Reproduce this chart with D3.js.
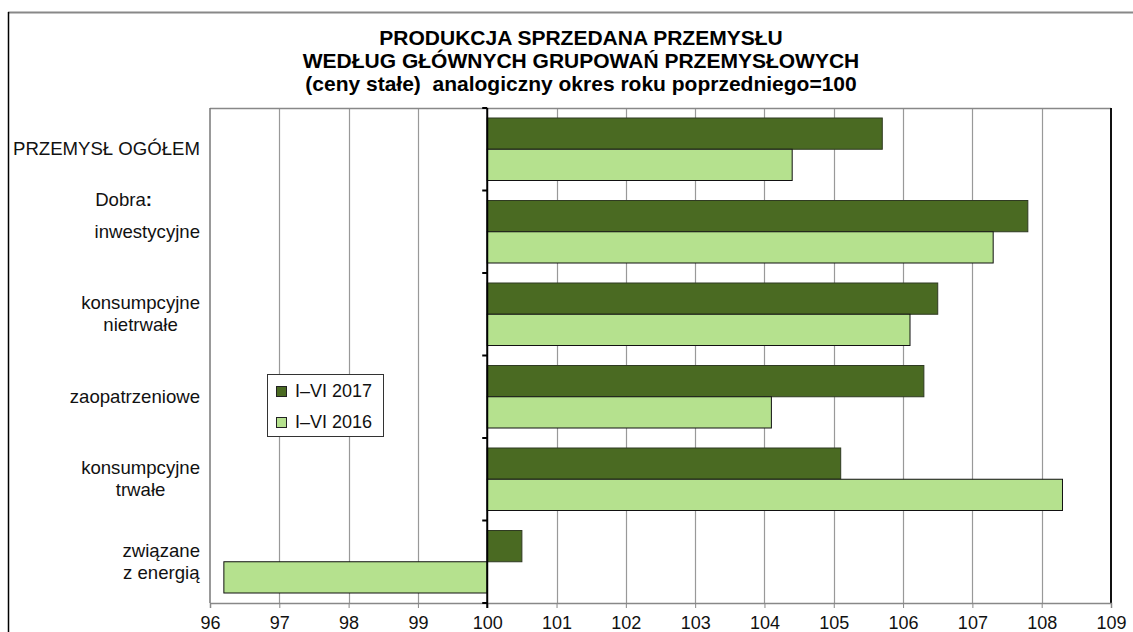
<!DOCTYPE html>
<html>
<head>
<meta charset="utf-8">
<script src="https://cdn.jsdelivr.net/npm/d3@7"></script>
<style>
  body { margin: 0; background: #fff; }
  svg { display: block; font-family: "Liberation Sans", Arial, sans-serif; }
</style>
</head>
<body>
<div id="chart"></div>
<script>
// data
const categories = ["ogolem", "inwestycyjne", "nietrwale", "zaopatrzeniowe", "trwale", "energia"];
const categoryLabels = [
  ["PRZEMYSŁ OGÓŁEM"],
  ["inwestycyjne"],
  ["konsumpcyjne", "nietrwałe"],
  ["zaopatrzeniowe"],
  ["konsumpcyjne", "trwałe"],
  ["związane", "z energią"]
];
const seriesNames = ["I–VI 2017", "I–VI 2016"];
const values2017 = [105.7, 107.8, 106.5, 106.3, 105.1, 100.5];
const values2016 = [104.4, 107.3, 106.1, 104.1, 108.3, 96.2];
const xTicks = [96, 97, 98, 99, 100, 101, 102, 103, 104, 105, 106, 107, 108, 109];
const titleLines = [
  "PRODUKCJA SPRZEDANA PRZEMYSŁU",
  "WEDŁUG GŁÓWNYCH GRUPOWAŃ PRZEMYSŁOWYCH",
  "(ceny stałe)  analogiczny okres roku poprzedniego=100"
];

const data = categories.map((c, i) => ({
  key: c,
  lines: categoryLabels[i],
  vals: [values2017[i], values2016[i]]
}));

const W = 1133, H = 632;
const margin = { top: 108, right: 22, bottom: 29, left: 210 };
const colors = ["#4a6a22", "#b5e18e"];
const strokes = ["#2f3a22", "#111"];

const svg = d3.select("#chart").append("svg")
  .attr("width", W)
  .attr("height", H);

// outer frame
svg.append("line").attr("x1", 8).attr("x2", W).attr("y1", 12.5).attr("y2", 12.5)
  .attr("stroke", "#888").attr("stroke-width", 2);
svg.append("line").attr("x1", 8.5).attr("x2", 8.5).attr("y1", 12).attr("y2", H)
  .attr("stroke", "#000").attr("stroke-width", 1.5);

// title
svg.append("g").selectAll("text")
  .data(titleLines)
  .enter().append("text")
  .attr("x", 581)
  .attr("y", (d, i) => 45 + i * 23)
  .attr("text-anchor", "middle")
  .style("font-size", "21px")
  .style("font-weight", "bold")
  .style("white-space", "pre")
  .text(d => d);

const x = d3.scaleLinear()
  .domain([96, 109])
  .range([margin.left, W - margin.right]);

const y0 = d3.scaleBand()
  .domain(categories)
  .range([margin.top, H - margin.bottom]);

const y1 = d3.scaleBand()
  .domain([0, 1])
  .range([10, y0.bandwidth() - 10]);

const plotTop = margin.top, plotBottom = H - margin.bottom;

// gridlines
svg.append("g").selectAll("line")
  .data(xTicks.filter(t => t !== 96 && t !== 100 && t !== 109))
  .enter().append("line")
  .attr("x1", d => Math.round(x(d)) + 0.5)
  .attr("x2", d => Math.round(x(d)) + 0.5)
  .attr("y1", plotTop)
  .attr("y2", plotBottom)
  .attr("stroke", "#999")
  .attr("stroke-width", 1.2);

// plot borders
svg.append("line").attr("x1", x(96)).attr("x2", x(109)).attr("y1", plotTop + 0.5).attr("y2", plotTop + 0.5)
  .attr("stroke", "#888").attr("stroke-width", 1.5);
svg.append("line").attr("x1", x(96)).attr("x2", x(96)).attr("y1", plotTop).attr("y2", plotBottom)
  .attr("stroke", "#777").attr("stroke-width", 1.5);
svg.append("line").attr("x1", x(109)).attr("x2", x(109)).attr("y1", plotTop).attr("y2", plotBottom)
  .attr("stroke", "#111").attr("stroke-width", 2);

// x axis
const xAxis = svg.append("g")
  .attr("transform", "translate(0," + plotBottom + ")")
  .call(d3.axisBottom(x).tickValues(xTicks).tickSize(5).tickPadding(8).tickFormat(d3.format("d")));
xAxis.select(".domain").attr("stroke", "#888").attr("stroke-width", 1.5);
xAxis.selectAll(".tick line").attr("stroke", "#888");
xAxis.selectAll("text").style("font-size", "18px").attr("fill", "#111")
  .attr("font-family", "'Liberation Sans', Arial, sans-serif");

// bars
const groups = svg.append("g").selectAll("g")
  .data(data)
  .enter().append("g")
  .attr("transform", d => "translate(0," + y0(d.key) + ")");

groups.selectAll("rect")
  .data(d => d.vals.map((v, i) => ({ v: v, i: i })))
  .enter().append("rect")
  .attr("x", d => x(Math.min(100, d.v)))
  .attr("y", d => y1(d.i))
  .attr("width", d => Math.abs(x(d.v) - x(100)))
  .attr("height", y1.bandwidth())
  .attr("fill", d => colors[d.i])
  .attr("stroke", d => strokes[d.i])
  .attr("stroke-width", 1);

// vertical axis at 100 with category ticks
const yAxis = svg.append("g")
  .attr("transform", "translate(" + x(100) + ",0)");
yAxis.append("line").attr("y1", plotTop).attr("y2", plotBottom + 5)
  .attr("stroke", "#000").attr("stroke-width", 2);
yAxis.selectAll("line.tick")
  .data(categories.map(c => y0(c)).concat([plotBottom]))
  .enter().append("line")
  .attr("class", "tick")
  .attr("x1", -5).attr("x2", 0)
  .attr("y1", d => d).attr("y2", d => d)
  .attr("stroke", "#000").attr("stroke-width", 2);

// category labels
const labelRight = 200;
const labels = svg.append("g").selectAll("text")
  .data(data)
  .enter().append("text")
  .style("font-size", "18.6px")
  .attr("fill", "#111");
labels.each(function (d) {
  const t = d3.select(this);
  const n = d.lines.length;
  const cy = y0(d.key) + y0.bandwidth() / 2;
  d.lines.forEach((ln, j) => {
    t.append("tspan")
      .attr("y", cy + (j - (n - 1) / 2) * 22 + 6)
      .text(ln);
  });
  let maxW = 0;
  t.selectAll("tspan").each(function () {
    maxW = Math.max(maxW, this.getComputedTextLength());
  });
  t.attr("text-anchor", "middle");
  t.selectAll("tspan").attr("x", labelRight - maxW / 2);
});

// "Dobra:" heading above second group
const dobra = svg.append("text")
  .attr("x", 152)
  .attr("y", y0(categories[1]) + 15)
  .attr("text-anchor", "end")
  .style("font-size", "18.6px")
  .attr("fill", "#111");
dobra.append("tspan").text("Dobra");
dobra.append("tspan").style("font-weight", "bold").text(":");

// legend
const legend = svg.append("g").attr("transform", "translate(267,374)");
legend.append("rect")
  .attr("x", 0.5).attr("y", 0.5)
  .attr("width", 116).attr("height", 62)
  .attr("fill", "#fff")
  .attr("stroke", "#333");
const items = legend.selectAll("g.item")
  .data(seriesNames)
  .enter().append("g")
  .attr("class", "item")
  .attr("transform", (d, i) => "translate(9," + (12 + i * 31) + ")");
items.append("rect")
  .attr("x", 0.5).attr("y", 0.5)
  .attr("width", 10).attr("height", 10)
  .attr("fill", (d, i) => colors[i])
  .attr("stroke", "#222");
items.append("text")
  .attr("x", 19)
  .attr("y", 11)
  .style("font-size", "18px")
  .attr("fill", "#111")
  .text(d => d);
</script>
</body>
</html>
